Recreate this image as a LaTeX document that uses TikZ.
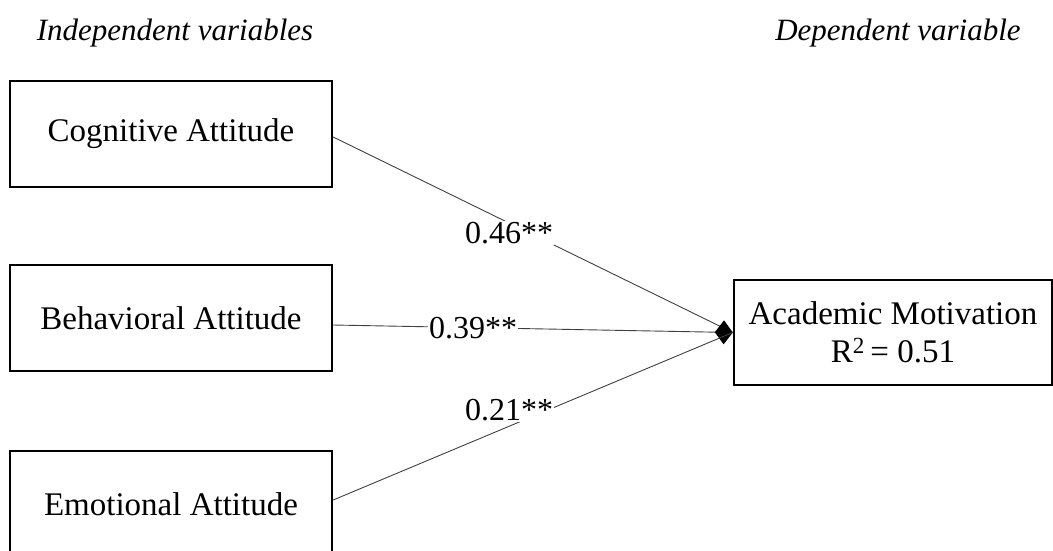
\documentclass[tikz,border=0pt]{standalone}
\usepackage{fontspec}
\setmainfont{Liberation Serif}
\usetikzlibrary{arrows.meta}
\tikzset{
  varbox/.style={draw=black, line width=2.4pt, minimum height=106pt, inner sep=0pt,
    font=\fontsize{33}{38}\selectfont, align=center},
  conn/.style={draw=black!75, line width=0.9pt},
  coef/.style={fill=white, inner sep=1pt, font=\fontsize{32}{38}\selectfont},
  head/.style={font=\fontsize{31}{36}\selectfont\itshape}
}
\begin{document}
\begin{tikzpicture}[x=1pt,y=-1pt]
\useasboundingbox (0,0) rectangle (1053,550);
\node[head] (ind) at (175,33) {Independent variables};
\node[head] (dep) at (898,33) {Dependent variable};
\node[varbox, minimum width=322pt] (cog) at (171,134) {Cognitive Attitude};
\node[varbox, minimum width=322pt] (beh) at (171,318) {Behavioral Attitude};
\node[varbox, minimum width=322pt] (emo) at (171,504) {Emotional Attitude};
\node[varbox, minimum width=318pt, minimum height=105pt] (acad) at (893,332.5)
  {Academic Motivation\\R\textsuperscript{2}\,= 0.51};
\coordinate (tip) at (acad.west);
\draw[conn] ([yshift=-3pt]cog.east) -- node[coef, pos=0.44, yshift=-10pt] (l1) {0.46**} (tip);
\draw[conn, -{Diamond[length=18pt, width=24pt, fill=black, color=black]}] ([yshift=-7pt]beh.east) -- node[coef, pos=0.35] (l2) {0.39**} (tip);
\draw[conn] ([yshift=4pt]emo.east) -- node[coef, pos=0.44, yshift=16pt] (l3) {0.21**} (tip);
\end{tikzpicture}
\end{document}
